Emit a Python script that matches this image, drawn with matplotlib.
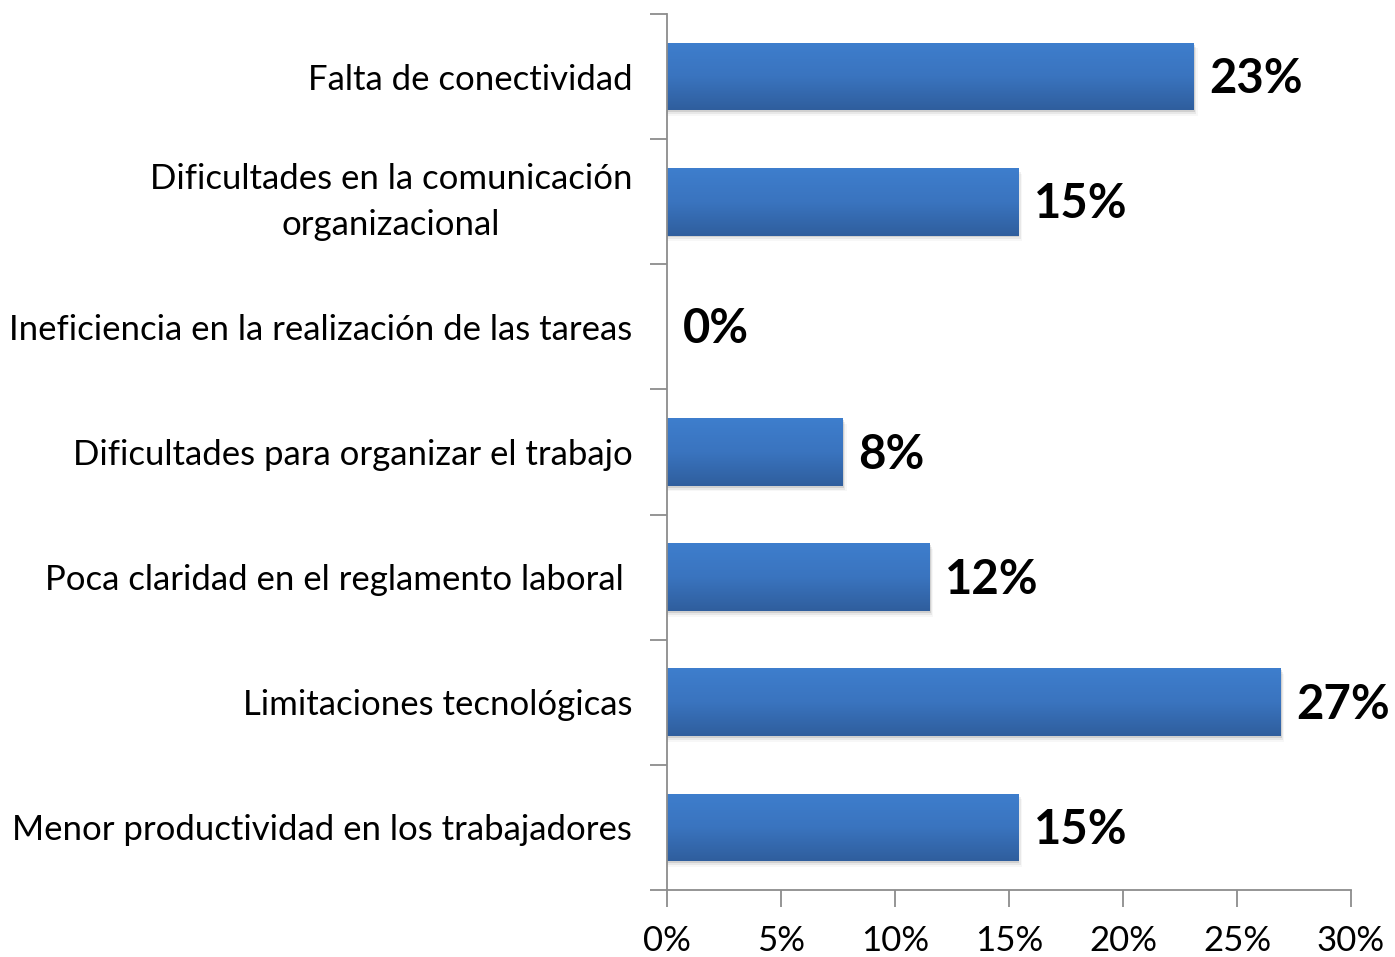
import matplotlib
matplotlib.use("Agg")
import matplotlib.pyplot as plt
import numpy as np
from matplotlib.colors import LinearSegmentedColormap
from matplotlib.patches import Rectangle

categories = [
    "Falta de conectividad",
    "Dificultades en la comunicación\norganizacional",
    "Ineficiencia en la realización de las tareas",
    "Dificultades para organizar el trabajo",
    "Poca claridad en el reglamento laboral ",
    "Limitaciones tecnológicas",
    "Menor productividad en los trabajadores",
]
values = [23.1, 15.4, 0.0, 7.7, 11.5, 26.9, 15.4]
value_labels = ["23%", "15%", "0%", "8%", "12%", "27%", "15%"]
xticks = [0, 5, 10, 15, 20, 25, 30]
xtick_labels = ["0%", "5%", "10%", "15%", "20%", "25%", "30%"]

plt.rcParams['font.family'] = ['Lato', 'DejaVu Sans']

fig = plt.figure(figsize=(13.95, 9.57), dpi=100)
ax = fig.add_axes([667/1395, 1-890/957, (1351-667)/1395, (890-14)/957])

n = len(categories)
ypos = np.arange(n)
ax.set_xlim(0, 30)
ax.set_ylim(n - 0.5, -0.5)

cmap = LinearSegmentedColormap.from_list("g", ["#3E7ECD", "#3A74BF", "#2F5E9D"])
grad = np.linspace(0, 1, 256).reshape(-1, 1)
h = 0.54
for y, v, lab in zip(ypos, values, value_labels):
    if v > 0:
        # soft shadow
        for k, a in enumerate([0.10, 0.06, 0.03]):
            d = 0.015 * (k + 1)
            sh = Rectangle((0.0, y - h/2 + d), v + 0.06 * (k + 1), h, facecolor="#000000",
                           alpha=a, edgecolor="none", zorder=1)
            ax.add_patch(sh)
        rect = Rectangle((0, y - h/2), v, h, facecolor="none", edgecolor="none", zorder=2)
        ax.add_patch(rect)
        im = ax.imshow(grad, cmap=cmap, aspect="auto",
                       extent=(0, v, y + h/2, y - h/2), zorder=2, origin="upper")
        im.set_clip_path(rect)
    ax.text(v + 0.7, y + 0.02, lab, ha="left", va="center", fontsize=34,
            fontweight="bold", color="#000000", zorder=3)

ax.set_xlim(0, 30)
ax.set_ylim(n - 0.5, -0.5)

for s in ["top", "right"]:
    ax.spines[s].set_visible(False)
for s in ["left", "bottom"]:
    ax.spines[s].set_color("#8C8C8C")
    ax.spines[s].set_linewidth(1.3)

ax.set_xticks(xticks)
ax.set_xticklabels(xtick_labels, fontsize=25)
ax.tick_params(axis="x", direction="out", length=12, width=1.3, color="#8C8C8C",
               pad=13)

ax.set_yticks(np.arange(-0.5, n, 1.0))
ax.set_yticklabels([])
ax.tick_params(axis="y", direction="out", length=12, width=1.3, color="#8C8C8C")
ax.set_yticks(ypos, minor=True)
labels = ax.set_yticklabels(categories, minor=True, fontsize=25, ha="right",
                            multialignment="center", linespacing=1.55)
for t in labels:
    if "\n" in t.get_text():
        t.set_verticalalignment("center")
ax.tick_params(axis="y", which="minor", length=0, pad=25)

fig.savefig("out.png", dpi=100)
